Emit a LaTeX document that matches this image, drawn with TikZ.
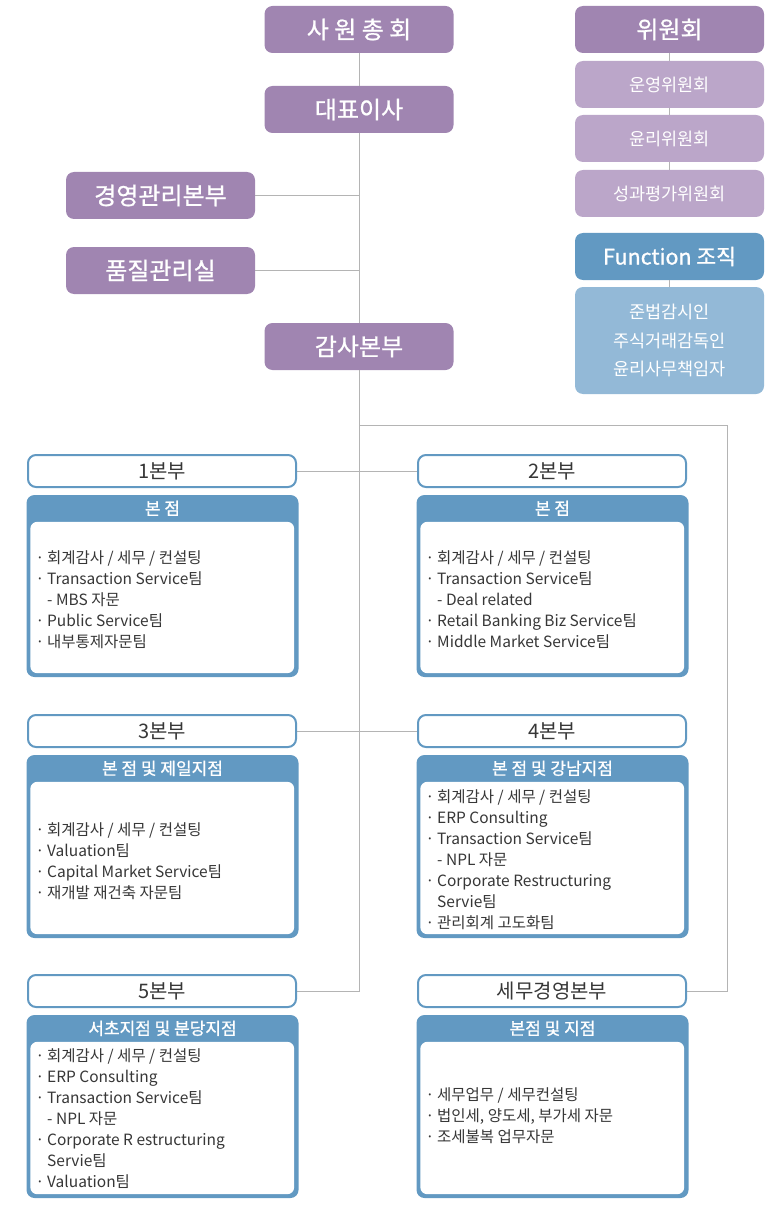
\documentclass[tikz,border=0pt]{standalone}
\usepackage{fontspec}
\setmainfont{Noto Sans CJK KR}
\newfontfamily\medfont{Noto Sans CJK KR}[FakeBold=0.9]
\usetikzlibrary{calc}
\definecolor{pdark}{RGB}{160,133,177}
\definecolor{plight}{RGB}{187,166,201}
\definecolor{bdark}{RGB}{98,153,194}
\definecolor{blight}{RGB}{147,185,215}
\definecolor{connc}{RGB}{180,180,180}
\definecolor{txt}{RGB}{55,55,55}
\newcommand{\bul}{\makebox[11.5pt][l]{·}}
\newcommand{\ind}{\hspace*{11.5pt}}
\newcommand{\mysec}[5]{%
  \node[secbox, minimum height=#4] (#1) at (#2,#3) {};
  \fill[white, rounded corners=7pt] ($(#1.north west)+(4,27)$) rectangle ($(#1.south east)+(-4.5,-4)$);
  \node[sechead] (#1h) at ($(#1.north)+(0,13.5)$) {#5};
}
\begin{document}
\begin{tikzpicture}[x=1pt,y=-1pt,
  topbox/.style={fill=pdark, rounded corners=8pt, minimum width=189pt, minimum height=47pt, text=white, font=\fontsize{24}{28}\medfont, inner sep=0pt},
  combox/.style={fill=plight, rounded corners=8pt, minimum width=189pt, minimum height=47pt, text=white, font=\fontsize{17.5}{21}\selectfont, inner sep=0pt},
  funcbox/.style={fill=bdark, rounded corners=8pt, minimum width=189pt, minimum height=47pt, text=white, font=\fontsize{21.5}{25}\medfont, inner sep=0pt},
  fdbox/.style={fill=blight, rounded corners=8pt, minimum width=189pt, minimum height=107pt, text=white, font=\fontsize{17.5}{28.5}\selectfont, align=center, inner sep=0pt},
  divtitle/.style={draw=bdark, line width=2pt, fill=white, rounded corners=8pt, minimum width=268pt, minimum height=32pt, text=txt, font=\fontsize{20}{24}\selectfont, inner sep=0pt},
  secbox/.style={fill=bdark, rounded corners=8pt, minimum width=272pt, inner sep=0pt},
  sechead/.style={text=white, font=\fontsize{17}{20}\medfont, inner sep=0pt},
  listtext/.style={anchor=west, align=left, text=txt, font=\fontsize{15.5}{21}\selectfont, inner sep=0pt},
  connline/.style={draw=connc, line width=1pt}
]
\useasboundingbox (0,0) rectangle (768,1206);

% top chain
\node[topbox] (sw) at (359,29.5) {사 원 총 회};
\node[topbox] (ceo) at (359,109.5) {대표이사};
\node[topbox] (mgmt) at (160.5,195.5) {경영관리본부};
\node[topbox] (qual) at (160.5,270.5) {품질관리실};
\node[topbox] (audit) at (359,346.5) {감사본부};

% right column
\node[topbox] (com) at (669.5,29.5) {위원회};
\node[combox] (c1) at (669.5,84.5) {운영위원회};
\node[combox] (c2) at (669.5,138.5) {윤리위원회};
\node[combox] (c3) at (669.5,193.5) {성과평가위원회};
\node[funcbox] (func) at (669.5,256.5) {Function 조직};
\node[fdbox] (fd) at (669.5,340.5) {준법감시인\\주식거래감독인\\윤리사무책임자};

% connectors
\coordinate (rc) at (727,425);
\draw[connline] (sw.south) -- (ceo.north);
\draw[connline] (ceo.south) -- (audit.north);
\draw[connline] (mgmt.east) -- (mgmt.east -| ceo.south);
\draw[connline] (qual.east) -- (qual.east -| ceo.south);
\draw[connline] (audit.south) |- (359,991) -- (162,991);
\draw[connline] (rc -| audit.south) -- (rc) |- (552,991);
\draw[connline] (com.south) -- (c1.north);
\draw[connline] (c1.south) -- (c2.north);
\draw[connline] (c2.south) -- (c3.north);
\draw[connline] (func.south) -- (fd.north);
\draw[connline] (162,471) -- (552,471);
\draw[connline] (162,731) -- (552,731);

% division titles
\node[divtitle] (d1) at (162,471) {1본부};
\node[divtitle] (d2) at (552,471) {2본부};
\node[divtitle] (d3) at (162,731) {3본부};
\node[divtitle] (d4) at (552,731) {4본부};
\node[divtitle] (d5) at (162,991) {5본부};
\node[divtitle] (d6) at (552,991) {세무경영본부};

% sections
\mysec{s1}{162.5}{586}{182pt}{본 점}
\mysec{s2}{552.5}{586}{182pt}{본 점}
\mysec{s3}{162.5}{846.5}{183pt}{본 점 및 제일지점}
\mysec{s4}{552.5}{846.5}{183pt}{본 점 및 강남지점}
\mysec{s5}{162.5}{1106.5}{183pt}{서초지점 및 분당지점}
\mysec{s6}{552.5}{1106.5}{183pt}{본점 및 지점}

\node[listtext] (l1) at (35.5,600) {\bul 회계감사 / 세무 / 컨설팅\\\bul Transaction Service팀\\\ind - MBS 자문\\\bul Public Service팀\\\bul 내부통제자문팀};
\node[listtext] (l2) at (425.5,600) {\bul 회계감사 / 세무 / 컨설팅\\\bul Transaction Service팀\\\ind - Deal related\\\bul Retail Banking Biz Service팀\\\bul Middle Market Service팀};
\node[listtext] (l3) at (35.5,861.5) {\bul 회계감사 / 세무 / 컨설팅\\\bul Valuation팀\\\bul Capital Market Service팀\\\bul 재개발 재건축 자문팀};
\node[listtext] (l4) at (425.5,860) {\bul 회계감사 / 세무 / 컨설팅\\\bul ERP Consulting\\\bul Transaction Service팀\\\ind - NPL 자문\\\bul Corporate Restructuring\\\ind Servie팀\\\bul 관리회계 고도화팀};
\node[listtext] (l5) at (35.5,1119) {\bul 회계감사 / 세무 / 컨설팅\\\bul ERP Consulting\\\bul Transaction Service팀\\\ind - NPL 자문\\\bul Corporate R estructuring\\\ind Servie팀\\\bul Valuation팀};
\node[listtext] (l6) at (425.5,1116) {\bul 세무업무 / 세무컨설팅\\\bul 법인세, 양도세, 부가세 자문\\\bul 조세불복 업무자문};
\end{tikzpicture}
\end{document}
